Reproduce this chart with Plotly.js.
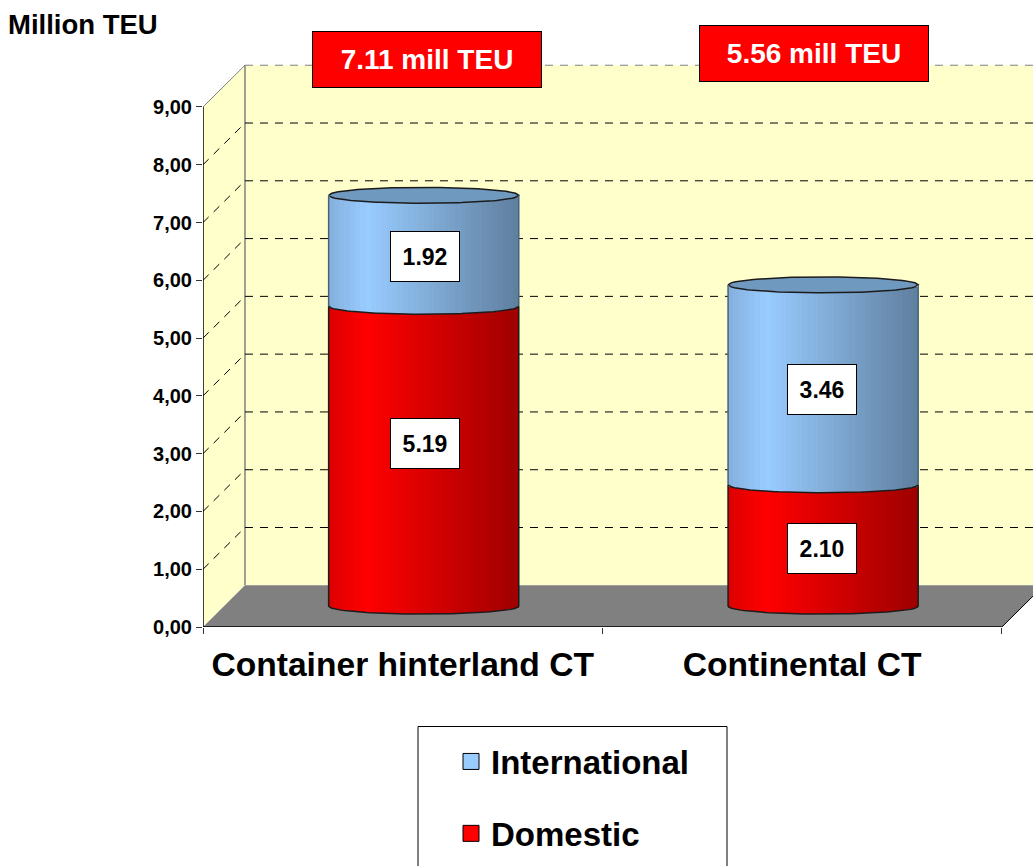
<!DOCTYPE html>
<html>
<head>
<meta charset="utf-8">
<script src="https://cdn.plot.ly/plotly-3.0.1.min.js"></script>
<style>html,body{margin:0;padding:0;background:#fff;overflow:hidden}#chart{width:1033px;height:866px}</style>
</head>
<body>
<div id="chart"></div>
<script>
// ---- data ----
var categories = ['Container hinterland CT', 'Continental CT'];
var domestic = [5.19, 2.10];
var international = [1.92, 3.46];
var totals = [7.11, 5.56];
var yTicks = [0, 1, 2, 3, 4, 5, 6, 7, 8, 9];
var yTickText = ['0,00', '1,00', '2,00', '3,00', '4,00', '5,00', '6,00', '7,00', '8,00', '9,00'];

// ---- fake 3D geometry, in axis units ----
var depthX = 0.1051, depthY = 0.722;      // wall offset
var cylW = 0.476, ry = 0.138, STRIPS = 36;
var xMin = -0.5, xMax = 1.578, yMax = 10.505;
var font = 'Liberation Sans, Arial, sans-serif';

function shade(t) { return t < 0.2 ? 0.86 + 0.14 * t / 0.2 : 1 - 0.38 * (t - 0.2) / 0.8; }
function rgb(c, f) { return 'rgb(' + c.map(function (v) { return Math.round(v * f); }).join(',') + ')'; }
var redBase = [255, 0, 0], blueBase = [153, 204, 255];

function strips(name, low, high, base) {
  var x = [], b = [], y = [], w = [], col = [];
  categories.forEach(function (_, i) {
    var cx = i + depthX / 2, sw = cylW / STRIPS;
    for (var k = 0; k < STRIPS; k++) {
      var t = (k + 0.5) / STRIPS, u = 2 * t - 1, e = ry * Math.sqrt(1 - u * u);
      var y0 = depthY / 2 + low[i] - e, y1 = depthY / 2 + high[i] - e;
      x.push(cx + u * cylW / 2); b.push(y0); y.push(y1 - y0); w.push(sw * 1.02); col.push(rgb(base, shade(t)));
    }
  });
  return { type: 'bar', name: name, x: x, y: y, base: b, width: w, showlegend: false, hoverinfo: 'skip',
    marker: { color: col, line: { width: 0 } } };
}
var zeros = categories.map(function () { return 0; });
var traces = [
  strips('Domestic', zeros, domestic, redBase),
  strips('International', domestic, totals, blueBase)
];

function arc(cx, cy, sign) {
  var xs = [], ys = [];
  for (var k = 0; k <= 60; k++) {
    var u = -1 + k / 30;
    xs.push(cx + u * cylW / 2); ys.push(cy + sign * ry * Math.sqrt(1 - u * u));
  }
  return { x: xs, y: ys };
}
var edge = { color: '#1c1c1c', width: 1.5 };
categories.forEach(function (_, i) {
  var cx = i + depthX / 2, yb = depthY / 2, ys = yb + domestic[i], yt = yb + domestic[i] + international[i];
  // top disc
  var lo = arc(cx, yt, -1), hi = arc(cx, yt, 1);
  traces.push({ type: 'scatter', mode: 'lines', x: lo.x.concat(hi.x.slice().reverse()), y: lo.y.concat(hi.y.slice().reverse()),
    fill: 'toself', fillcolor: '#7099c0', line: edge, showlegend: false, hoverinfo: 'skip' });
  // seam between the two series
  var s = arc(cx, ys, -1);
  traces.push({ type: 'scatter', mode: 'lines', x: s.x, y: s.y, line: edge, showlegend: false, hoverinfo: 'skip' });
  // bottom and red sides
  var b = arc(cx, yb, -1);
  traces.push({ type: 'scatter', mode: 'lines', x: [cx - cylW / 2].concat(b.x, [cx + cylW / 2]), y: [ys].concat(b.y, [ys]),
    line: edge, showlegend: false, hoverinfo: 'skip' });
  // blue sides
  [-1, 1].forEach(function (d) {
    traces.push({ type: 'scatter', mode: 'lines', x: [cx + d * cylW / 2, cx + d * cylW / 2], y: [ys, yt],
      line: { color: '#47627d', width: 1.5 }, showlegend: false, hoverinfo: 'skip' });
  });
});
// axis lines
traces.push({ type: 'scatter', mode: 'lines', x: [xMin, xMin], y: [0, yTicks[yTicks.length - 1]], cliponaxis: false,
  line: { color: '#000', width: 1.5 }, showlegend: false, hoverinfo: 'skip' });
traces.push({ type: 'scatter', mode: 'lines', x: [xMin, 1.5], y: [0, 0], cliponaxis: false,
  line: { color: '#000', width: 1.5 }, showlegend: false, hoverinfo: 'skip' });
// legend entries
traces.push({ type: 'scatter', mode: 'markers', name: 'International', x: [null], y: [null], legendgroup: 'a',
  marker: { symbol: 'square', size: 16, color: '#99CCFF', line: { color: '#000', width: 1 } } });
traces.push({ type: 'scatter', mode: 'markers', name: 'Domestic', x: [null], y: [null], legendgroup: 'b',
  marker: { symbol: 'square', size: 16, color: '#FF0000', line: { color: '#000', width: 1 } } });

// ---- walls, floor, gridlines ----
var top9 = yTicks[yTicks.length - 1];
var wx = xMin + depthX;
var plotH = 607, plotW = 830;
var shapes = [
  { type: 'path', layer: 'below', xref: 'x', yref: 'y', line: { width: 0 }, fillcolor: '#FFFFCC',
    path: 'M' + wx + ',' + depthY + ' L' + xMax + ',' + depthY + ' L' + xMax + ',' + (top9 + depthY) + ' L' + wx + ',' + (top9 + depthY) + ' Z' },
  { type: 'path', layer: 'below', xref: 'x', yref: 'y', line: { width: 0 }, fillcolor: '#FFFFCC',
    path: 'M' + xMin + ',0 L' + wx + ',' + depthY + ' L' + wx + ',' + (top9 + depthY) + ' L' + xMin + ',' + top9 + ' Z' },
  { type: 'path', layer: 'below', xref: 'x', yref: 'y', line: { width: 0 }, fillcolor: '#808080',
    path: 'M' + xMin + ',0 L' + wx + ',' + depthY + ' L' + xMax + ',' + depthY + ' L' + xMax + ',' + (depthY * 0.74) + ' L1.5,0 Z' },
  { type: 'line', layer: 'below', xref: 'x', yref: 'y', x0: wx, x1: wx, y0: depthY, y1: top9 + depthY, line: { color: '#808080', width: 1.5 } },
  { type: 'line', layer: 'below', xref: 'x', yref: 'y', x0: xMin, x1: wx, y0: top9, y1: top9 + depthY, line: { color: '#808080', width: 1 } },
  { type: 'line', layer: 'below', xref: 'x', yref: 'y', x0: 1.5, x1: xMax, y0: 0, y1: depthY * 0.74, line: { color: '#000', width: 1 } },
  // legend frame, running off the bottom of the page as in the reference
  { type: 'rect', xref: 'paper', yref: 'paper', x0: (418 - 203) / plotW, x1: (727 - 203) / plotW, y0: (627 - 872) / plotH, y1: (627 - 726.5) / plotH,
    fillcolor: '#fff', line: { color: '#000', width: 1 } }
];
yTicks.forEach(function (v) {
  if (v === 0) return;
  var dashCol = v === top9 ? '#808080' : '#000';
  shapes.push({ type: 'line', layer: 'below', xref: 'x', yref: 'y', x0: wx, x1: xMax, y0: v + depthY, y1: v + depthY,
    line: { color: dashCol, width: 1, dash: '8px,7px' } });
  if (v !== top9) shapes.push({ type: 'line', layer: 'below', xref: 'x', yref: 'y', x0: xMin, x1: wx, y0: v, y1: v + depthY,
    line: { color: '#000', width: 1, dash: '8px,7px' } });
});

// ---- labels ----
var annotations = [];
function valueBox(i, mid, v, nudge, nudgeX) {
  annotations.push({ xref: 'x', yref: 'y', x: i + depthX / 2 + nudgeX, y: mid + depthY / 2 + nudge, text: '<b>' + v.toFixed(2) + '</b>',
    showarrow: false, bgcolor: '#fff', bordercolor: '#000', borderwidth: 1, borderpad: 0, width: 68, height: 49,
    font: { family: font, size: 23, color: '#000' } });
}
valueBox(0, domestic[0] / 2, domestic[0], 0.228, 0.002);
valueBox(0, domestic[0] + international[0] / 2, international[0], -0.107, 0.002);
valueBox(1, domestic[1] / 2, domestic[1], -0.044, -0.003);
valueBox(1, domestic[1] + international[1] / 2, international[1], -0.072, -0.003);
[[0.06, 9.83], [1.029, 9.92]].forEach(function (p, i) {
  annotations.push({ xref: 'x', yref: 'y', x: p[0], y: p[1], text: '<b>' + totals[i].toFixed(2) + ' mill TEU</b>',
    showarrow: false, bgcolor: '#FF0000', bordercolor: '#000', borderwidth: 1, borderpad: 0, width: 228, height: 55,
    font: { family: font, size: 28, color: '#fff' } });
});
annotations.push({ xref: 'paper', yref: 'paper', x: (6 - 203) / plotW, y: (627 - 25) / plotH, xanchor: 'left', yanchor: 'middle',
  text: '<b>Million TEU</b>', showarrow: false, font: { family: font, size: 27.5, color: '#000' } });

var layout = {
  width: 1033, height: 866, autosize: false,
  margin: { l: 203, r: 0, t: 20, b: 239, pad: 0 },
  paper_bgcolor: '#fff', plot_bgcolor: 'rgba(0,0,0,0)',
  barmode: 'overlay', bargap: 0,
  xaxis: { type: 'linear', range: [xMin, xMax], tickmode: 'array', tickvals: [0, 1], ticktext: categories, ticks: '',
    showgrid: false, zeroline: false, showline: false, ticklabelstandoff: 14,
    tickfont: { family: font, size: 33.6, weight: 'bold', color: '#000' },
    minor: { tickmode: 'array', tickvals: [-0.5, 0.5, 1.5], ticks: 'outside', ticklen: 6, tickwidth: 1, tickcolor: '#333', showgrid: false } },
  yaxis: { range: [0, yMax], tickmode: 'array', tickvals: yTicks, ticktext: yTickText, ticks: 'outside', ticklen: 6, tickwidth: 1, tickcolor: '#333',
    showgrid: false, zeroline: false, showline: false,
    tickfont: { family: font, size: 20, weight: 'bold', color: '#000' } },
  showlegend: true,
  legend: { x: (418 - 203) / plotW, xanchor: 'left', y: (627 - 733.5) / plotH, yanchor: 'top', bgcolor: 'rgba(0,0,0,0)', borderwidth: 0,
    traceorder: 'grouped', tracegroupgap: 26, indentation: 33, entrywidth: 250, entrywidthmode: 'pixels',
    font: { family: font, size: 33, weight: 'bold', color: '#000' } },
  shapes: shapes, annotations: annotations
};
Plotly.newPlot('chart', traces, layout, { displayModeBar: false, staticPlot: true });
</script>
</body>
</html>
